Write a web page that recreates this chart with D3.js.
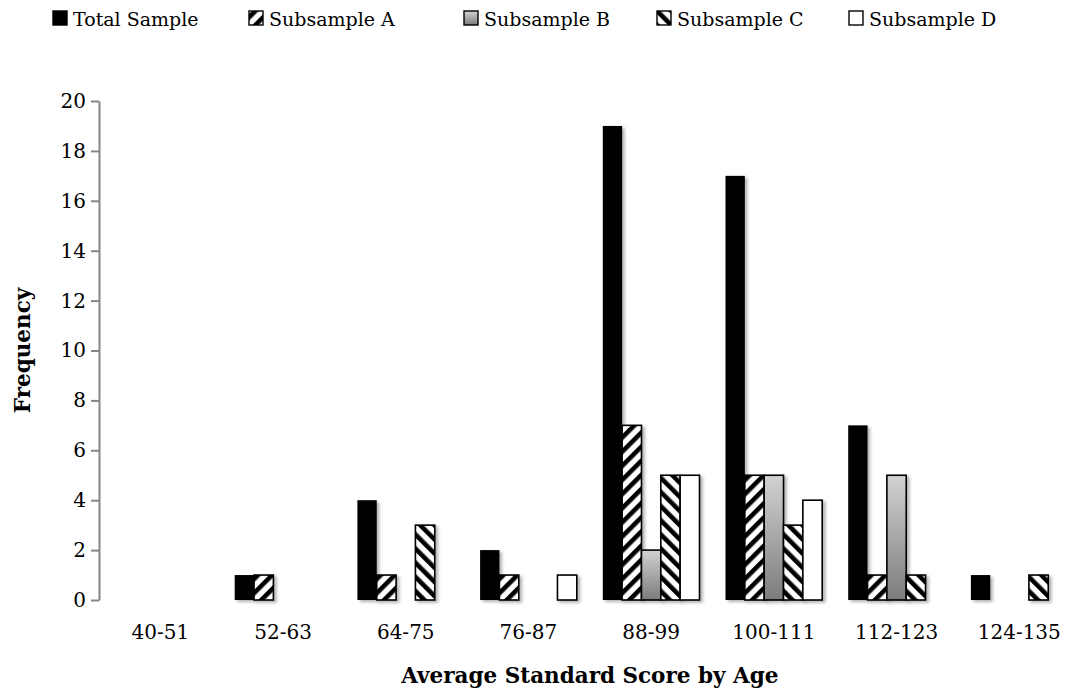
<!DOCTYPE html>
<html>
<head>
<meta charset="utf-8">
<script src="https://cdn.jsdelivr.net/npm/d3@7"></script>
<style>
  html, body { margin: 0; padding: 0; background: #fff; }
  svg { display: block; font-family: "DejaVu Serif", "Liberation Serif", serif; }
</style>
</head>
<body>
<svg id="chart" width="1086" height="697"></svg>
<script>
// Score bands on the horizontal axis
const categories = ["40-51", "52-63", "64-75", "76-87", "88-99", "100-111", "112-123", "124-135"];
const seriesNames = ["Total Sample", "Subsample A", "Subsample B", "Subsample C", "Subsample D"];

// Frequencies per band for each sample
const totalSample = [0, 1, 4, 2, 19, 17, 7, 1];
const subsampleA  = [0, 1, 1, 1, 7, 5, 1, 0];
const subsampleB  = [0, 0, 0, 0, 2, 5, 5, 0];
const subsampleC  = [0, 0, 3, 0, 5, 3, 1, 1];
const subsampleD  = [0, 0, 0, 1, 5, 4, 0, 0];

const yTicks = [0, 2, 4, 6, 8, 10, 12, 14, 16, 18, 20];

const seriesValues = [totalSample, subsampleA, subsampleB, subsampleC, subsampleD];

const FONT = "DejaVu Serif, Liberation Serif, serif";
const svg = d3.select("#chart");
const defs = svg.append("defs");

// Diagonal stripe patterns
function stripes(id, angle) {
  const p = defs.append("pattern")
    .attr("id", id)
    .attr("patternUnits", "userSpaceOnUse")
    .attr("width", 10).attr("height", 10)
    .attr("patternTransform", `rotate(${angle})`);
  p.append("rect").attr("width", 10).attr("height", 10).attr("fill", "#fff");
  p.append("rect").attr("width", 4.6).attr("height", 10).attr("fill", "#000");
}
stripes("stripeFwd", 45);
stripes("stripeBack", -45);

const grad = defs.append("linearGradient")
  .attr("id", "greyGrad").attr("x1", 0).attr("y1", 0).attr("x2", 0).attr("y2", 1);
grad.append("stop").attr("offset", "0%").attr("stop-color", "#d2d2d2");
grad.append("stop").attr("offset", "100%").attr("stop-color", "#7c7c7c");

const shadow = defs.append("filter").attr("id", "shadow")
  .attr("x", "-30%").attr("y", "-10%").attr("width", "180%").attr("height", "130%");
shadow.append("feDropShadow")
  .attr("dx", 2.5).attr("dy", 2).attr("stdDeviation", 1.8)
  .attr("flood-color", "#000").attr("flood-opacity", 0.3);

const fills = ["#000", "url(#stripeFwd)", "url(#greyGrad)", "url(#stripeBack)", "#fff"];
const strokes = ["none", "#000", "#000", "#000", "#000"];

const plotLeft = 99, plotRight = 1080.6, plotTop = 101, plotBottom = 600;

const x0 = d3.scaleBand().domain(categories).range([plotLeft, plotRight]).padding(0);
const gap = 13;
const x1 = d3.scaleBand().domain(seriesNames).range([gap, x0.bandwidth() - gap]).padding(0);
const y = d3.scaleLinear().domain([0, 20]).range([plotBottom, plotTop]);

// Bars
const groups = svg.append("g").selectAll("g")
  .data(categories)
  .join("g")
  .attr("transform", d => `translate(${x0(d)},0)`);

groups.selectAll("rect")
  .data((c, i) => seriesNames.map((s, k) => ({ s, k, v: seriesValues[k][i] })).filter(d => d.v > 0))
  .join("rect")
  .attr("x", d => x1(d.s))
  .attr("y", d => y(d.v))
  .attr("width", x1.bandwidth())
  .attr("height", d => y(0) - y(d.v))
  .attr("fill", d => fills[d.k])
  .attr("stroke", d => strokes[d.k])
  .attr("stroke-width", 1.6)
  .attr("filter", "url(#shadow)");

// Y axis
const yAxis = svg.append("g")
  .attr("transform", `translate(${plotLeft},0)`)
  .call(d3.axisLeft(y).tickValues(yTicks).tickSize(8).tickPadding(5).tickSizeOuter(0));
yAxis.select(".domain").attr("stroke", "#868686").attr("stroke-width", 2);
yAxis.selectAll(".tick line").attr("stroke", "#868686").attr("stroke-width", 2);
yAxis.selectAll(".tick text").attr("font-size", 20).attr("fill", "#000")
  .attr("font-family", FONT);

// X axis
const xAxis = svg.append("g")
  .attr("transform", `translate(0,${plotBottom})`)
  .call(d3.axisBottom(x0).tickSize(0).tickPadding(25).tickSizeOuter(0));
xAxis.select(".domain").attr("stroke", "#868686").attr("stroke-width", 2.5)
  .attr("filter", "url(#shadow)");
xAxis.selectAll(".tick text").attr("font-size", 20).attr("fill", "#000")
  .attr("font-family", FONT);

// Axis titles
svg.append("text")
  .attr("x", (plotLeft + plotRight) / 2).attr("y", 683)
  .attr("text-anchor", "middle")
  .attr("font-size", 21.5).attr("font-weight", "bold")
  .text("Average Standard Score by Age");

svg.append("text")
  .attr("transform", `translate(30,${(plotTop + plotBottom) / 2}) rotate(-90)`)
  .attr("text-anchor", "middle")
  .attr("font-size", 21.5).attr("font-weight", "bold")
  .text("Frequency");

// Legend
const legendX = [53, 249, 464, 657, 849];
const legend = svg.append("g").selectAll("g")
  .data(seriesNames)
  .join("g")
  .attr("transform", (d, i) => `translate(${legendX[i]},0)`);
legend.append("rect")
  .attr("x", 0).attr("y", 11).attr("width", 14).attr("height", 14)
  .attr("fill", (d, i) => fills[i])
  .attr("stroke", "#000").attr("stroke-width", 1.4);
legend.append("text")
  .attr("x", 20).attr("y", 26)
  .attr("font-size", 19)
  .text(d => d);
</script>
</body>
</html>
